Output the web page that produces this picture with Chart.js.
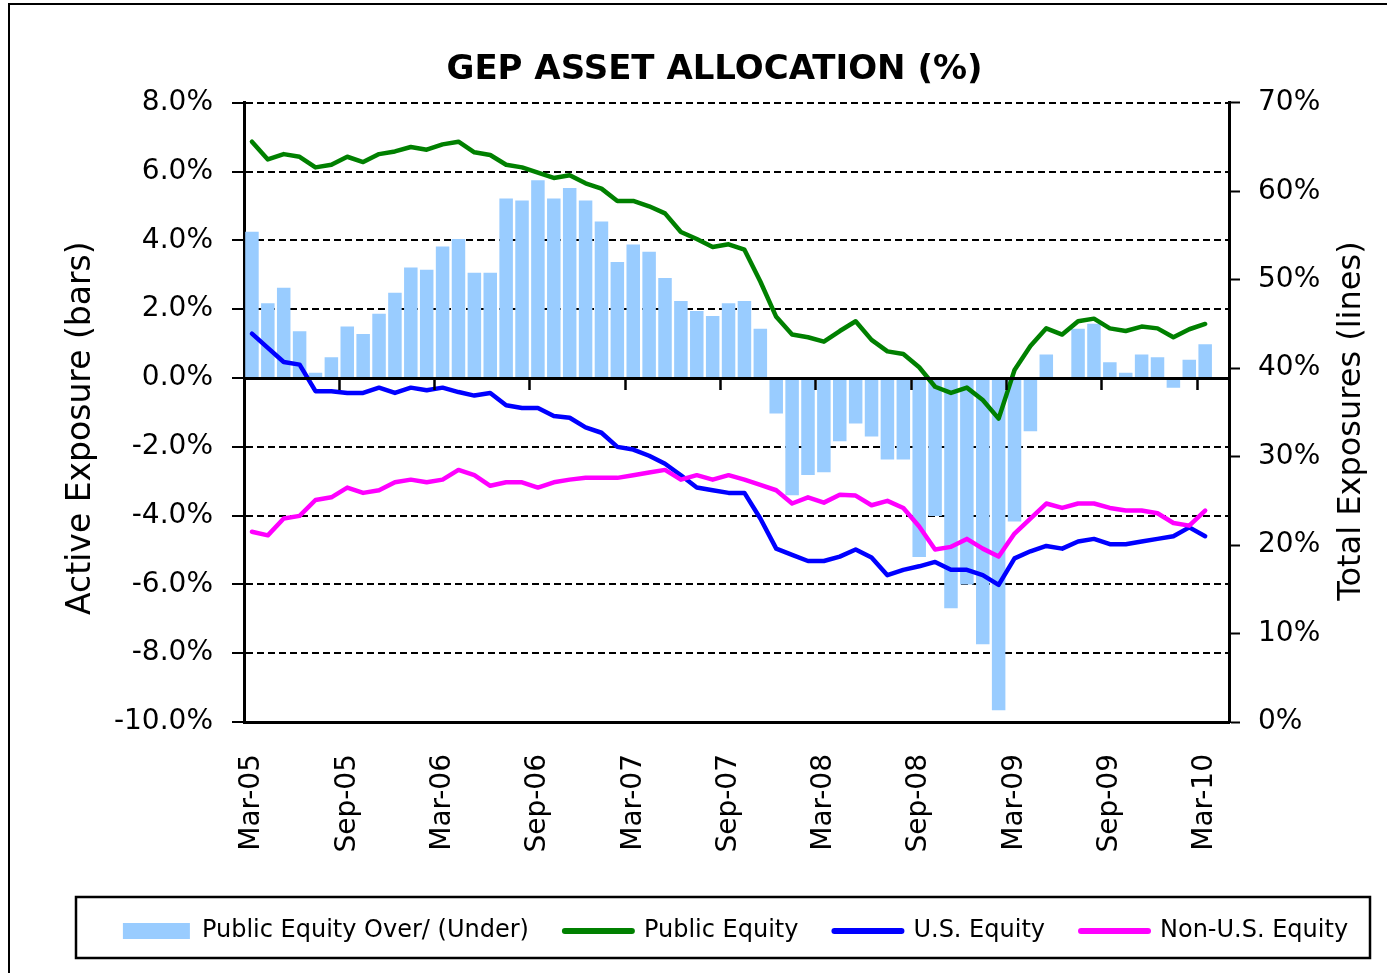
<!DOCTYPE html>
<html>
<head>
<meta charset="utf-8">
<script src="https://cdn.jsdelivr.net/npm/chart.js@4.4.1/dist/chart.umd.min.js"></script>
<style>
html,body{margin:0;padding:0;background:#fff;}
canvas{display:block;}
</style>
</head>
<body>
<canvas id="c" width="1387" height="973"></canvas>
<script>
// ---------- DATA ----------
const categories = [
  'Mar-05','Apr-05','May-05','Jun-05','Jul-05','Aug-05','Sep-05','Oct-05','Nov-05','Dec-05','Jan-06','Feb-06',
  'Mar-06','Apr-06','May-06','Jun-06','Jul-06','Aug-06','Sep-06','Oct-06','Nov-06','Dec-06','Jan-07','Feb-07',
  'Mar-07','Apr-07','May-07','Jun-07','Jul-07','Aug-07','Sep-07','Oct-07','Nov-07','Dec-07','Jan-08','Feb-08',
  'Mar-08','Apr-08','May-08','Jun-08','Jul-08','Aug-08','Sep-08','Oct-08','Nov-08','Dec-08','Jan-09','Feb-09',
  'Mar-09','Apr-09','May-09','Jun-09','Jul-09','Aug-09','Sep-09','Oct-09','Nov-09','Dec-09','Jan-10','Feb-10',
  'Mar-10','Apr-10'
];

// Active exposure (bars, left axis, %)
const publicEquityOverUnder = [
  4.25, 2.17, 2.62, 1.36, 0.15, 0.60, 1.50, 1.28, 1.87, 2.48, 3.21, 3.15,
  3.82, 4.04, 3.06, 3.06, 5.22, 5.16, 5.75, 5.22, 5.52, 5.16, 4.55, 3.37,
  3.88, 3.67, 2.91, 2.24, 1.95, 1.80, 2.17, 2.24, 1.43, -1.03, -3.41, -2.82,
  -2.74, -1.84, -1.32, -1.70, -2.37, -2.37, -5.20, -4.01, -6.69, -6.00, -7.74, -9.66,
  -4.17, -1.55, 0.68, 0.00, 1.43, 1.58, 0.46, 0.15, 0.68, 0.60, -0.28, 0.53,
  0.98
];

// Total exposures (lines, right axis, %)
const publicEquity = [
  65.6, 63.6, 64.2, 63.9, 62.7, 63.0, 63.9, 63.3, 64.2, 64.5, 65.0, 64.7,
  65.3, 65.6, 64.4, 64.1, 63.0, 62.7, 62.1, 61.5, 61.8, 60.9, 60.3, 58.9,
  58.9, 58.3, 57.5, 55.4, 54.6, 53.7, 54.0, 53.4, 49.8, 45.8, 43.8, 43.5,
  43.0, 44.2, 45.3, 43.2, 41.9, 41.6, 40.1, 37.9, 37.2, 37.8, 36.4, 34.3,
  39.8, 42.5, 44.5, 43.8, 45.3, 45.6, 44.5, 44.2, 44.7, 44.5, 43.5, 44.4,
  45.0
];
const usEquity = [
  43.9, 42.3, 40.7, 40.4, 37.4, 37.4, 37.2, 37.2, 37.8, 37.2, 37.8, 37.5,
  37.8, 37.3, 36.9, 37.2, 35.8, 35.5, 35.5, 34.6, 34.4, 33.3, 32.7, 31.1,
  30.8, 30.1, 29.2, 27.9, 26.5, 26.2, 25.9, 25.9, 23.0, 19.6, 18.9, 18.2,
  18.2, 18.7, 19.5, 18.6, 16.6, 17.2, 17.6, 18.1, 17.2, 17.2, 16.6, 15.5,
  18.5, 19.3, 19.9, 19.6, 20.4, 20.7, 20.1, 20.1, 20.4, 20.7, 21.0, 22.0,
  21.0
];
const nonUsEquity = [
  21.5, 21.1, 23.0, 23.3, 25.1, 25.4, 26.5, 25.9, 26.2, 27.1, 27.4, 27.1,
  27.4, 28.5, 27.9, 26.7, 27.1, 27.1, 26.5, 27.1, 27.4, 27.6, 27.6, 27.6,
  27.9, 28.2, 28.5, 27.4, 27.9, 27.4, 27.9, 27.4, 26.8, 26.2, 24.7, 25.4,
  24.8, 25.7, 25.6, 24.5, 25.0, 24.2, 22.1, 19.5, 19.8, 20.7, 19.6, 18.7,
  21.3, 23.0, 24.7, 24.2, 24.7, 24.7, 24.2, 23.9, 23.9, 23.6, 22.5, 22.2,
  23.9
];

const leftAxis = { min: -10, max: 8, step: 2 };
const rightAxis = { min: 0, max: 70, step: 10 };
const labelEvery = 6;

// ---------- STYLE ----------
const FONT = 'DejaVu Sans';

const decor = {
  id: 'decor',
  afterLayout(chart) {
    const lg = chart.legend;
    if (lg) { lg.left += 21; lg.right += 21; }
  },
  beforeDraw(chart) {
    const ctx = chart.ctx;
    ctx.save();
    ctx.strokeStyle = '#000';
    ctx.lineWidth = 2;
    ctx.beginPath();
    ctx.moveTo(9, 973); ctx.lineTo(9, 4); ctx.lineTo(1387, 4);
    ctx.stroke();
    ctx.restore();
  },
  afterDraw(chart) {
    const ctx = chart.ctx;
    const lg = chart.legend;
    const cy = lg.top + lg.options.labels.padding + 12;
    ctx.save();
    ctx.strokeStyle = '#000';
    ctx.lineWidth = 2.5;
    ctx.strokeRect(76, cy - 34, 1294, 61);
    ctx.restore();
    ctx.save();
    ctx.translate(1352, 421);
    ctx.rotate(-Math.PI / 2);
    ctx.textAlign = 'center';
    ctx.textBaseline = 'middle';
    ctx.fillStyle = '#000';
    ctx.font = '32px "' + FONT + '"';
    ctx.fillText('Total Exposures (lines)', 0, 0);
    ctx.restore();
  }
};

new Chart(document.getElementById('c'), {
  type: 'bar',
  data: {
    labels: categories,
    datasets: [
      {
        type: 'bar', label: 'Public Equity Over/ (Under)', data: publicEquityOverUnder,
        backgroundColor: '#99CCFF', borderWidth: 0, barPercentage: 0.85, categoryPercentage: 1.0,
        xAxisID: 'x', yAxisID: 'y', order: 4
      },
      {
        type: 'line', label: 'Public Equity', data: publicEquity,
        borderColor: '#008000', backgroundColor: '#008000', borderWidth: 4.5, pointRadius: 0,
        tension: 0, fill: false, borderJoinStyle: 'round', borderCapStyle: 'round',
        xAxisID: 'x', yAxisID: 'y1', order: 3
      },
      {
        type: 'line', label: 'U.S. Equity', data: usEquity,
        borderColor: '#0000FF', backgroundColor: '#0000FF', borderWidth: 4.5, pointRadius: 0,
        tension: 0, fill: false, borderJoinStyle: 'round', borderCapStyle: 'round',
        xAxisID: 'x', yAxisID: 'y1', order: 2
      },
      {
        type: 'line', label: 'Non-U.S. Equity', data: nonUsEquity,
        borderColor: '#FF00FF', backgroundColor: '#FF00FF', borderWidth: 4.5, pointRadius: 0,
        tension: 0, fill: false, borderJoinStyle: 'round', borderCapStyle: 'round',
        xAxisID: 'x', yAxisID: 'y1', order: 1
      }
    ]
  },
  options: {
    responsive: false,
    animation: false,
    devicePixelRatio: 1,
    events: [],
    layout: { padding: { left: 42, right: 0, top: 0, bottom: 20 } },
    plugins: {
      title: {
        display: true, text: 'GEP ASSET ALLOCATION (%)', color: '#000',
        font: { family: FONT, size: 34, weight: 'bold' },
        padding: { top: 50, bottom: 12 }
      },
      legend: {
        position: 'bottom',
        labels: {
          usePointStyle: true, pointStyleWidth: 67, boxHeight: 16, padding: 36,
          color: '#000', font: { family: FONT, size: 24 },
          sort: (a, b) => a.datasetIndex - b.datasetIndex,
          generateLabels(chart) {
            const items = Chart.defaults.plugins.legend.labels.generateLabels(chart);
            items.forEach(it => {
              const ds = chart.data.datasets[it.datasetIndex];
              if (ds.type === 'line') {
                it.pointStyle = 'line'; it.lineWidth = 6; it.lineCap = 'round';
                it.strokeStyle = ds.borderColor; it.fillStyle = ds.borderColor;
              } else {
                it.pointStyle = 'rect'; it.lineWidth = 0; it.fillStyle = ds.backgroundColor;
              }
            });
            return items;
          }
        }
      },
      tooltip: { enabled: false }
    },
    scales: {
      x: {
        axis: 'x', type: 'category', position: { y: 0 }, offset: true,
        ticks: { display: false, autoSkip: false },
        grid: {
          offset: true, drawOnChartArea: false, drawTicks: true, tickLength: 10, tickWidth: 2.5,
          color: '#000',
          tickColor: c => (c.index % labelEvery === 0 ? '#000' : 'rgba(0,0,0,0)'),
          z: 1
        },
        border: { display: true, color: '#000', width: 3, z: 1 }
      },
      x2: {
        axis: 'x', type: 'category', position: 'bottom', offset: true,
        grid: { display: false, drawTicks: false },
        border: { display: true, color: '#000', width: 3 },
        ticks: {
          autoSkip: false, maxRotation: 90, minRotation: 90, padding: 32,
          color: '#000', font: { family: FONT, size: 28 },
          callback(v, i) { return i % labelEvery === 0 ? this.getLabelForValue(v) : ''; }
        },
        afterFit(s) { s.height = 161; }
      },
      y: {
        type: 'linear', position: 'left', min: leftAxis.min, max: leftAxis.max,
        ticks: {
          stepSize: leftAxis.step, padding: 19, color: '#000', font: { family: FONT, size: 28 },
          callback: v => v.toFixed(1) + '%'
        },
        grid: { color: '#000', lineWidth: 2, drawTicks: true, tickLength: 12, tickWidth: 2, tickColor: '#000' },
        border: { display: true, color: '#000', width: 3, dash: [7, 4] },
        title: {
          display: true, text: 'Active Exposure (bars)   ', color: '#000',
          font: { family: FONT, size: 33 }, padding: { top: 20, bottom: 0 }
        },
        afterFit(s) { s.width = 202; }
      },
      y1: {
        type: 'linear', position: 'right', min: rightAxis.min, max: rightAxis.max,
        ticks: {
          stepSize: rightAxis.step, padding: 18, color: '#000', font: { family: FONT, size: 28 },
          callback: v => v + '%'
        },
        grid: { drawOnChartArea: false, drawTicks: true, tickLength: 11, tickWidth: 2, tickColor: '#000', color: '#000' },
        border: { display: true, color: '#000', width: 3 },
        afterFit(s) { s.width = 158; }
      }
    }
  },
  plugins: [decor]
});
</script>
</body>
</html>
